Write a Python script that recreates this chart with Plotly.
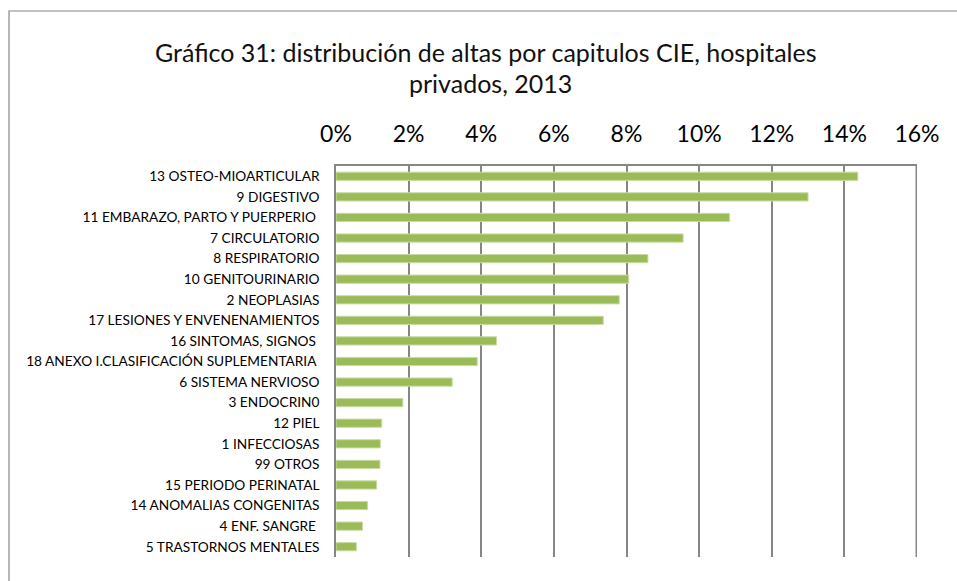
import plotly.graph_objects as go

categories = [
    "13 OSTEO-MIOARTICULAR",
    "9 DIGESTIVO",
    "11 EMBARAZO, PARTO Y PUERPERIO ",
    "7 CIRCULATORIO",
    "8 RESPIRATORIO",
    "10 GENITOURINARIO",
    "2 NEOPLASIAS",
    "17 LESIONES Y ENVENENAMIENTOS",
    "16 SINTOMAS, SIGNOS ",
    "18 ANEXO I.CLASIFICACIÓN SUPLEMENTARIA ",
    "6 SISTEMA NERVIOSO",
    "3 ENDOCRIN0",
    "12 PIEL",
    "1 INFECCIOSAS",
    "99 OTROS",
    "15 PERIODO PERINATAL",
    "14 ANOMALIAS CONGENITAS",
    "4 ENF. SANGRE ",
    "5 TRASTORNOS MENTALES",
]
values = [0.1437, 0.1300, 0.1084, 0.0956, 0.0859, 0.0806, 0.0780, 0.0736,
          0.0442, 0.0389, 0.0320, 0.0184, 0.0126, 0.0122, 0.0121, 0.0112,
          0.0087, 0.0073, 0.0056]
tick_values = [0, 0.02, 0.04, 0.06, 0.08, 0.10, 0.12, 0.14, 0.16]
tick_labels = ["0%", "2%", "4%", "6%", "8%", "10%", "12%", "14%", "16%"]
title_lines = ["Gráfico 31: distribución de altas por capitulos CIE, hospitales",
               "privados, 2013"]

W, H = 957, 581
ML, MR, MT, MB = 336, 40, 166, 24
PW, PH = W - ML - MR, H - MT - MB

def px_x(p):
    return (p - ML) / PW

def px_y(p):
    return (H - MB - p) / PH

fig = go.Figure(go.Bar(
    x=values, y=categories, orientation="h",
    marker=dict(color="#9BBB59", line=dict(color="#C9DCA3", width=1)),
))

grid_col = "#868686"
fig.update_layout(
    width=W, height=H,
    paper_bgcolor="white", plot_bgcolor="white",
    margin=dict(l=ML, r=MR, t=MT, b=MB),
    bargap=0.6,
    showlegend=False,
    font=dict(family="Lato", color="#000000"),
    xaxis=dict(
        side="top", range=[0, 0.16], tickvals=tick_values, ticktext=tick_labels,
        showgrid=True, gridcolor=grid_col, gridwidth=1.5,
        showline=True, linecolor=grid_col, linewidth=1.5, mirror=False,
        zeroline=False, ticks="", ticklabelstandoff=13,
        tickfont=dict(family="Lato", size=23, color="#000000"),
        fixedrange=True,
    ),
    yaxis=dict(
        autorange="reversed", showgrid=False, zeroline=False,
        showline=True, linecolor=grid_col, linewidth=1.5,
        ticks="", ticklabelstandoff=12,
        tickfont=dict(family="Lato", size=13.7, color="#000000"),
    ),
    annotations=[
        dict(text=title_lines[0], xref="paper", yref="paper",
             x=px_x(486), y=px_y(52), xanchor="center", yanchor="middle",
             showarrow=False, font=dict(family="Lato", size=25, color="#111111")),
        dict(text=title_lines[1], xref="paper", yref="paper",
             x=px_x(490), y=px_y(83), xanchor="center", yanchor="middle",
             showarrow=False, font=dict(family="Lato", size=25, color="#111111")),
    ],
    shapes=[
        dict(type="path", xref="paper", yref="paper",
             path=f"M {px_x(9)},{px_y(600)} L {px_x(9)},{px_y(11)} L {px_x(970)},{px_y(11)}",
             line=dict(color="#868686", width=1.2), fillcolor="rgba(0,0,0,0)",
             layer="below"),
        dict(type="line", xref="x", yref="paper",
             x0=tick_values[-1] - 0.0002, x1=tick_values[-1] - 0.0002, y0=0, y1=1,
             line=dict(color=grid_col, width=1.5), layer="above"),
    ],
)

fig.write_html("out.html", config={"displayModeBar": False},
               post_script="document.body.style.margin='0';document.body.style.overflow='hidden';")
